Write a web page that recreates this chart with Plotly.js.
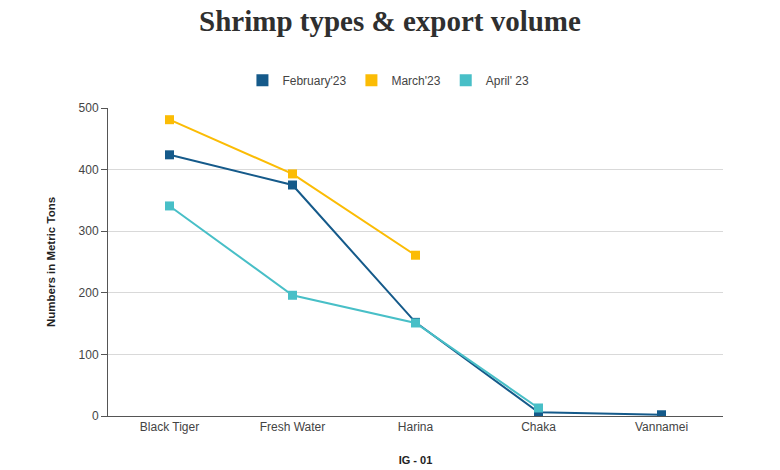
<!DOCTYPE html>
<html>
<head>
<meta charset="utf-8">
<script src="https://cdn.plot.ly/plotly-3.0.1.min.js"></script>
<style>html,body{margin:0;padding:0;background:#fff;}#chart{width:780px;height:470px;}</style>
</head>
<body>
<div id="chart"></div>
<script>
const categories = ["Black Tiger", "Fresh Water", "Harina", "Chaka", "Vannamei"];
const febValues = [424, 375, 152, 6, 2];
const marValues = [481, 393, 261, null, null];
const aprValues = [341, 196, 151, 13, null];
const seriesNames = ["February'23", "March'23", "April' 23"];
const yTicks = [0, 100, 200, 300, 400, 500];

const colors = ["#155a8a", "#fbbc05", "#48bfc7"];
const allValues = [febValues, marValues, aprValues];

const traces = [];
allValues.forEach((vals, i) => {
  traces.push({
    x: categories, y: vals, name: seriesNames[i], type: "scatter", mode: "lines",
    legendgroup: "g" + i, showlegend: false, connectgaps: false,
    line: {color: colors[i], width: 2}, hoverinfo: "skip"
  });
});
allValues.forEach((vals, i) => {
  traces.push({
    x: categories, y: vals, name: seriesNames[i], type: "scatter", mode: "markers",
    legendgroup: "g" + i, showlegend: true,
    marker: {symbol: "square", size: 9, color: colors[i]}
  });
});

const layout = {
  width: 780,
  height: 470,
  margin: {l: 108, r: 57, t: 108, b: 54},
  paper_bgcolor: "#fff",
  plot_bgcolor: "#fff",
  title: {
    text: "<b>Shrimp types & export volume</b>",
    font: {family: "Liberation Serif, serif", size: 29, color: "#2f2f2f"},
    x: 0.5, xanchor: "center", y: 0.955, yanchor: "middle"
  },
  legend: {
    orientation: "h",
    x: 0.456, xanchor: "center",
    y: 1.09, yanchor: "middle",
    font: {family: "Liberation Sans, Arial, sans-serif", size: 12, color: "#444"},
    itemsizing: "constant",
    traceorder: "normal"
  },
  xaxis: {
    type: "category",
    range: [-0.5, 4.5],
    showline: true, linecolor: "#555", linewidth: 1,
    ticks: "", showgrid: false,
    tickfont: {family: "Liberation Sans, Arial, sans-serif", size: 12, color: "#444"},
    title: {text: "<b>IG - 01</b>", font: {family: "Liberation Sans, Arial, sans-serif", size: 11, color: "#222"}, standoff: 22}
  },
  yaxis: {
    range: [0, 500],
    tickvals: yTicks,
    showline: true, linecolor: "#555", linewidth: 1,
    ticks: "outside", ticklen: 6, tickcolor: "#555",
    gridcolor: "#d9d9d9", gridwidth: 1,
    zeroline: false,
    tickfont: {family: "Liberation Sans, Arial, sans-serif", size: 12, color: "#444"},
    title: {text: "<b>Numbers in Metric Tons</b>", font: {family: "Liberation Sans, Arial, sans-serif", size: 11.5, color: "#222"}, standoff: 20}
  },
  showlegend: true
};

Plotly.newPlot("chart", traces, layout, {displayModeBar: false, staticPlot: true});
</script>
</body>
</html>
